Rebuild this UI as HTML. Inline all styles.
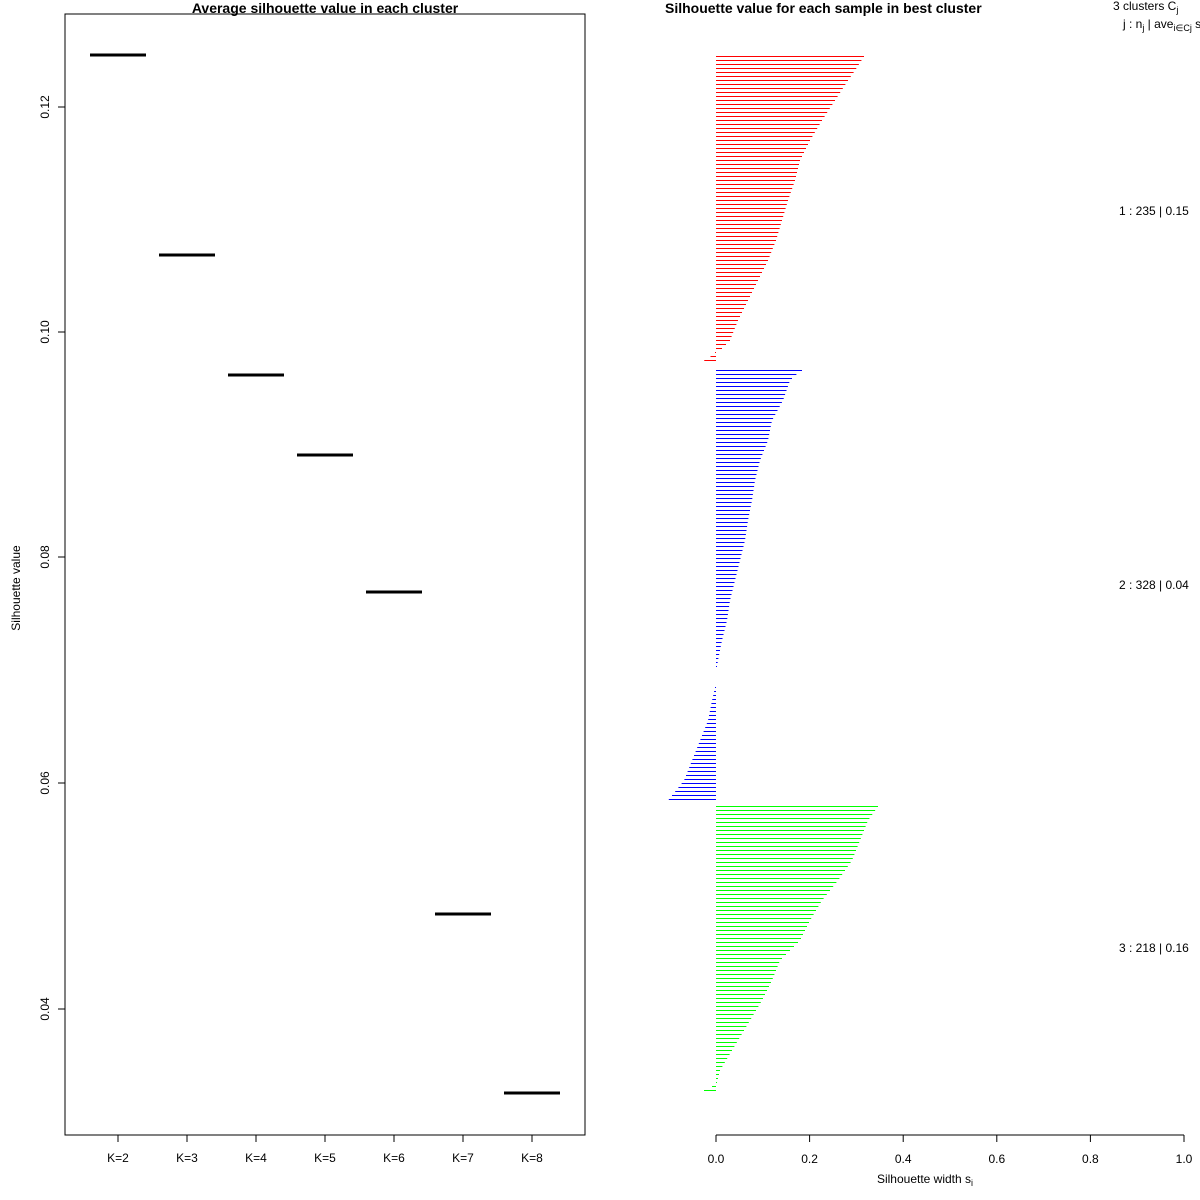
<!DOCTYPE html>
<html><head><style>body{margin:0;background:#fff}svg{display:block}text{font-family:"Liberation Sans",sans-serif;fill:#000}</style></head>
<body>
<svg id="s" width="1200" height="1200" xmlns="http://www.w3.org/2000/svg">
<rect x="65" y="14" width="520" height="1121" fill="none" stroke="#000" stroke-width="1"/>
<text x="325" y="13" font-size="14" font-weight="bold" text-anchor="middle">Average silhouette value in each cluster</text>
<g stroke="#000" stroke-width="1">
<line x1="65" y1="107" x2="58" y2="107"/><line x1="65" y1="332" x2="58" y2="332"/><line x1="65" y1="557" x2="58" y2="557"/><line x1="65" y1="783" x2="58" y2="783"/><line x1="65" y1="1009" x2="58" y2="1009"/>
</g>
<g font-size="12" text-anchor="middle">
<text transform="translate(49,107) rotate(-90)">0.12</text>
<text transform="translate(49,332) rotate(-90)">0.10</text>
<text transform="translate(49,557) rotate(-90)">0.08</text>
<text transform="translate(49,783) rotate(-90)">0.06</text>
<text transform="translate(49,1009) rotate(-90)">0.04</text>
<text transform="translate(20,588) rotate(-90)">Silhouette value</text>
</g>
<g stroke="#000" stroke-width="3">
<line x1="90" y1="55" x2="146" y2="55"/><line x1="159" y1="255" x2="215" y2="255"/><line x1="228" y1="375" x2="284" y2="375"/><line x1="297" y1="455" x2="353" y2="455"/><line x1="366" y1="592" x2="422" y2="592"/><line x1="435" y1="914" x2="491" y2="914"/><line x1="504" y1="1093" x2="560" y2="1093"/>
</g>
<g id="kt" stroke="#000"></g>
<g id="kl" font-size="12" text-anchor="middle"></g>
<g id="bars"></g>
<line x1="716" y1="1135" x2="1184" y2="1135" stroke="#000"/>
<g id="rt" stroke="#000"></g>
<g id="rl" font-size="12" text-anchor="middle"></g>
<text x="665" y="13" font-size="14" font-weight="bold">Silhouette value for each sample in best cluster</text>
<text x="1113" y="10" font-size="12">3  clusters  C<tspan font-size="9" dy="3">j</tspan></text>
<text x="1123" y="28" font-size="12">j :  n<tspan font-size="9" dy="3">j</tspan><tspan dy="-3"> | ave</tspan><tspan font-size="9" dy="3">i∈Cj</tspan><tspan dy="-3">  s</tspan></text>
<text x="1119" y="215" font-size="12">1 :  235  |  0.15</text>
<text x="1119" y="589" font-size="12">2 :  328  |  0.04</text>
<text x="1119" y="952" font-size="12">3 :  218  |  0.16</text>
<text x="925" y="1183" font-size="12" text-anchor="middle">Silhouette width s<tspan font-size="9" dy="3">i</tspan></text>
</svg>
<script>
var NS="http://www.w3.org/2000/svg";
function el(p,t,a,txt){var e=document.createElementNS(NS,t);for(var k in a)e.setAttribute(k,a[k]);if(txt)e.textContent=txt;document.getElementById(p).appendChild(e);}
for(var i=0;i<7;i++){var x=118+69*i;el("kt","line",{x1:x,y1:1135,x2:x,y2:1142});el("kl","text",{x:x,y:1162},"K="+(i+2));}
var lab=["0.0","0.2","0.4","0.6","0.8","1.0"];
for(var i=0;i<6;i++){var x=716+93.6*i;el("rt","line",{x1:x,y1:1135,x2:x,y2:1142});el("rl","text",{x:x,y:1163},lab[i]);}
function seg(pts,col,y0,y1){
 for(var y=y0;y<=y1;y+=4){
  var w=pts[0][1];
  for(var j=0;j<pts.length-1;j++){if(y>=pts[j][0]&&y<=pts[j+1][0]){var t=(y-pts[j][0])/(pts[j+1][0]-pts[j][0]);w=pts[j][1]+t*(pts[j+1][1]-pts[j][1]);}}
  if(y>pts[pts.length-1][0])w=pts[pts.length-1][1];
  el("bars","line",{x1:716,y1:y+0.5,x2:w,y2:y+0.5,stroke:col,"stroke-width":1});
 }}
seg([[56,864],[70,855],[80,848],[100,835],[120,822],[140,810],[160,800],[180,795],[200,788],[220,782],[240,776],[260,768],[280,758],[300,748],[320,738],[340,730],[348,722],[351,716],[355,712],[359,706],[363,699]],"#f00",56,363);
seg([[370,802],[375,795],[380,790],[400,783],[420,772],[440,768],[460,760],[480,755],[500,752],[520,748],[540,745],[560,740],[580,735],[600,730],[620,727],[640,722],[660,718],[666,717]],"#00f",370,666);
seg([[687,715],[700,712],[720,708],[740,700],[760,692],[780,684],[800,668]],"#00f",687,800);
seg([[806,878],[820,868],[840,860],[860,852],[880,838],[900,822],[920,810],[940,800],[960,780],[980,772],[1000,762],[1020,750],[1040,738],[1060,726],[1070,720],[1082,717],[1086,712],[1090,704]],"#0f0",806,1090);
</script>
</body></html>
